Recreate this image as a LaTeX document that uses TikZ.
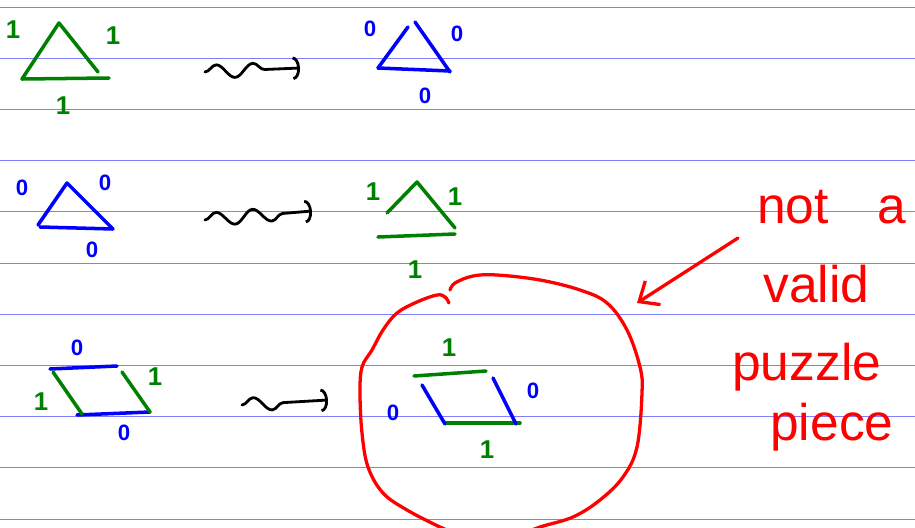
\documentclass[tikz,border=0pt]{standalone}
\usepackage{fontspec}
\usetikzlibrary{arrows.meta, decorations.pathmorphing}
\newfontfamily\penfont{Liberation Sans}
\definecolor{penGreen}{RGB}{0,128,0}
\definecolor{penBlue}{RGB}{0,0,255}
\definecolor{penRed}{RGB}{255,0,0}
\definecolor{ruleBlue}{RGB}{128,128,255}

\begin{document}
\begin{tikzpicture}[x=0.03cm, y=-0.03cm, line cap=round, line join=round,
    rule/.style={draw=ruleBlue, line width=0.8pt},
    gpen/.style={draw=penGreen, line width=3pt},
    bpen/.style={draw=penBlue, line width=3pt},
    rpen/.style={draw=penRed, line width=2.8pt},
    one/.style={text=penGreen, font=\penfont\bfseries\fontsize{22}{22}\selectfont, inner sep=0pt},
    zero/.style={text=penBlue, font=\penfont\bfseries\fontsize{19}{19}\selectfont, inner sep=0pt},
    wig/.style={draw=black, line width=2.4pt, decorate,
                decoration={snake, segment length=1.1cm, amplitude=0.2cm, post length=0.8cm},
                -{Arc Barb[width=20pt, length=6pt]}},
    note/.style={text=penRed, font=\penfont\fontsize{44}{44}\selectfont, inner sep=0pt, anchor=base west}]
  \useasboundingbox (0,0) rectangle (915,528);
  \fill[white] (0,0) rectangle (915,528);
  % ruled paper
  \foreach \k in {0,...,10}
    \draw[rule] (0,{7+51.2*\k}) -- (915,{7+51.2*\k});

  % row 1: green triangle ~> blue triangle
  \draw[gpen] (22,79) -- (59,23) -- (98,72);
  \draw[gpen] (22,79) -- (109,78);
  \node[one] (r1a) at (13,30) {1};
  \node[one] (r1b) at (113,36) {1};
  \node[one] (r1c) at (63,106) {1};
  \draw[bpen] (378,68) -- (408,27);
  \draw[bpen] (415,22) -- (450,72);
  \draw[bpen] (378,68) -- (450,71);
  \node[zero] (r1d) at (370,29) {0};
  \node[zero] (r1e) at (457,34) {0};
  \node[zero] (r1f) at (425,96) {0};
  \coordinate (w1a) at (205,72);
  \coordinate (w1b) at (300,68);
  \draw[wig] (w1a) -- (w1b);

  % row 2: blue triangle ~> green triangle
  \draw[bpen] (38,225) -- (67,183) -- (113,229);
  \draw[bpen] (40,227) -- (113,229);
  \node[zero] (r2a) at (22,188) {0};
  \node[zero] (r2b) at (105,183) {0};
  \node[zero] (r2c) at (92,250) {0};
  \draw[gpen] (387,213) -- (417,182) -- (455,228);
  \draw[gpen] (378,237) -- (455,234);
  \node[one] (r2d) at (373,192) {1};
  \node[one] (r2e) at (455,197) {1};
  \node[one] (r2f) at (415,270) {1};
  \coordinate (w2a) at (205,220);
  \coordinate (w2b) at (312,211);
  \draw[wig] (w2a) -- (w2b);

  % row 3: parallelogram ~> flipped one
  \draw[bpen] (50,369) -- (117,366);
  \draw[bpen] (77,415) -- (150,412);
  \draw[gpen] (53,372) -- (82,414);
  \draw[gpen] (122,372) -- (150,412);
  \node[zero] (r3a) at (77,348) {0};
  \node[one]  (r3b) at (41,402) {1};
  \node[one]  (r3c) at (155,377) {1};
  \node[zero] (r3d) at (124,433) {0};
  \draw[gpen] (414,376) -- (486,371);
  \draw[gpen] (446,423) -- (520,423);
  \draw[bpen] (422,385) -- (445,424);
  \draw[bpen] (493,378) -- (516,424);
  \node[one]  (r3e) at (449,348) {1};
  \node[zero] (r3f) at (393,413) {0};
  \node[zero] (r3g) at (533,391) {0};
  \node[one]  (r3h) at (487,450) {1};
  \coordinate (w3a) at (242,405);
  \coordinate (w3b) at (328,400);
  \draw[wig] (w3a) -- (w3b);

  % red loop round the result
  \draw[rpen] plot[smooth, tension=0.6] coordinates {(449,303) (445,297) (437,295)
    (417,302) (397,313) (383,330) (372,350) (362,367) (360,393) (362,433) (368,467)
    (383,493) (407,510) (440,527) (460,535)};
  \draw[rpen] plot[smooth, tension=0.6] coordinates {(450,290) (455,283) (473,276)
    (497,275) (540,280) (580,290) (607,303) (627,330) (640,367) (642,393) (637,447)
    (623,477) (600,500) (573,517) (540,527) (520,535)};

  % remark
  \node[note] (nota)   at (757,223) {not\hspace{0.95em}a};
  \node[note] (valid)  at (763,302) {valid};
  \node[note] (puzzle) at (732,380) {puzzle};
  \node[note] (piece)  at (770,440) {piece};
  \coordinate (tail) at (738,238);
  \coordinate (tip)  at (637,303);
  \draw[rpen, -{Straight Barb[length=14pt, width=24pt]}] (tail) -- (tip);
\end{tikzpicture}
\end{document}
